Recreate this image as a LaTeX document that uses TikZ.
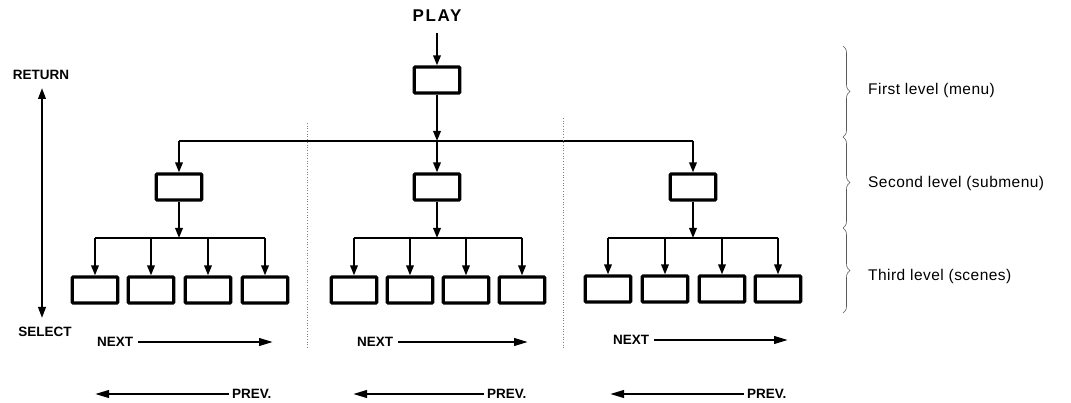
\documentclass[tikz,border=0pt]{standalone}
\usepackage{fontspec}
\setmainfont{Liberation Sans}
\usetikzlibrary{arrows.meta,decorations.pathreplacing}
\begin{document}
\begin{tikzpicture}[x=1pt,y=-1pt,
  box/.style={draw,line width=3.2pt,fill=white,minimum width=45.5pt,minimum height=26pt,inner sep=0pt,rounded corners=1pt},
  conn/.style={line width=1.8pt,-{Triangle[length=10pt,width=7.5pt]}},
  wire/.style={line width=1.8pt},
  lbl/.style={font=\fontsize{13.5}{14}\selectfont\bfseries,inner sep=0pt},
  nav/.style={line width=2.4pt,-{Triangle[length=14pt,width=7.5pt]}},
  lvl/.style={font=\fontsize{15.5}{16}\selectfont\addfontfeatures{LetterSpace=3},anchor=west,inner sep=0pt},
  sep/.style={gray,dotted,line width=0.7pt},
  brc/.style={decorate,decoration={brace,amplitude=7pt},gray!70!black,line width=0.6pt}
]
\useasboundingbox (0,0) rectangle (1071,403);
% top
\node[lbl,font=\fontsize{17}{18}\selectfont\bfseries\addfontfeatures{LetterSpace=10}] (play) at (437,16) {PLAY};
\node[box] (top) at (437,80) {};
\draw[conn,shorten <=11pt] (play.south -| top.north) -- (top.north);
\coordinate (j0) at (437,141);
\coordinate (ja) at (179,141);
\coordinate (jc) at (693,141);
\draw[conn] (top) -- (j0);
\draw[wire] (ja) -- (jc);
% second level
\node[box] (sa) at (179,187) {};
\node[box] (sb) at (437,187) {};
\node[box] (sc) at (693,187) {};
\draw[conn] (ja) -- (sa);
\draw[conn] (j0) -- (sb);
\draw[conn] (jc) -- (sc);
\coordinate (ka) at (179,238);
\coordinate (kb) at (437,238);
\coordinate (kc) at (693,238);
\draw[conn] (sa) -- (ka);
\draw[conn] (sb) -- (kb);
\draw[conn] (sc) -- (kc);
% third level
\node[box] (a1) at (95,290) {};
\node[box] (a2) at (151,290) {};
\node[box] (a3) at (208,290) {};
\node[box] (a4) at (265,290) {};
\node[box] (b1) at (354,290) {};
\node[box] (b2) at (410,290) {};
\node[box] (b3) at (466,290) {};
\node[box] (b4) at (522,290) {};
\node[box] (c1) at (608,289) {};
\node[box] (c2) at (665,289) {};
\node[box] (c3) at (722,289) {};
\node[box] (c4) at (778,289) {};
\draw[wire] (a1 |- ka) -- (a4 |- ka);
\draw[wire] (b1 |- kb) -- (b4 |- kb);
\draw[wire] (c1 |- kc) -- (c4 |- kc);
\foreach \i in {1,...,4} {
  \draw[conn] (a\i |- ka) -- (a\i);
  \draw[conn] (b\i |- kb) -- (b\i);
  \draw[conn] (c\i |- kc) -- (c\i);
}
% return / select
\node[lbl] (ret) at (41,75) {RETURN};
\node[lbl] (sel) at (45,332) {SELECT};
\coordinate (rt) at (42,88);
\coordinate (sl) at (42,318);
\draw[line width=2.2pt,{Triangle[length=11pt,width=7.5pt]}-{Triangle[length=11pt,width=7.5pt]}] (rt) -- (sl);
% separators
\draw[sep] (307,123) -- (307,348);
\draw[sep] (563,118) -- (563,350);
% next / prev
\node[lbl,anchor=west] (na) at (97,342) {NEXT};
\node[lbl,anchor=west] (nb) at (357,342) {NEXT};
\node[lbl,anchor=west] (nc) at (613,340) {NEXT};
\coordinate (nae) at (273,342);
\coordinate (nbe) at (528,342);
\coordinate (nce) at (788,340);
\draw[nav,shorten <=5pt] (na.east) -- (nae);
\draw[nav,shorten <=5pt] (nb.east) -- (nbe);
\draw[nav,shorten <=5pt] (nc.east) -- (nce);
\node[lbl,anchor=west] (pa) at (232,394) {PREV.};
\node[lbl,anchor=west] (pb) at (487,394) {PREV.};
\node[lbl,anchor=west] (pc) at (747,394) {PREV.};
\coordinate (pae) at (95,394);
\coordinate (pbe) at (353,394);
\coordinate (pce) at (610,394);
\draw[nav,shorten <=3pt] (pa.west) -- (pae);
\draw[nav,shorten <=3pt] (pb.west) -- (pbe);
\draw[nav,shorten <=3pt] (pc.west) -- (pce);
% braces and level labels
\coordinate (bt) at (843,46);
\coordinate (b12) at (843,137);
\coordinate (b23) at (843,228);
\coordinate (bb) at (843,313);
\draw[brc] (bt) -- (b12);
\draw[brc] (b12) -- (b23);
\draw[brc] (b23) -- (bb);
\node[lvl] (l1) at (868,90) {First level (menu)};
\node[lvl] (l2) at (868,183) {Second level (submenu)};
\node[lvl] (l3) at (868,276) {Third level (scenes)};
\end{tikzpicture}
\end{document}
